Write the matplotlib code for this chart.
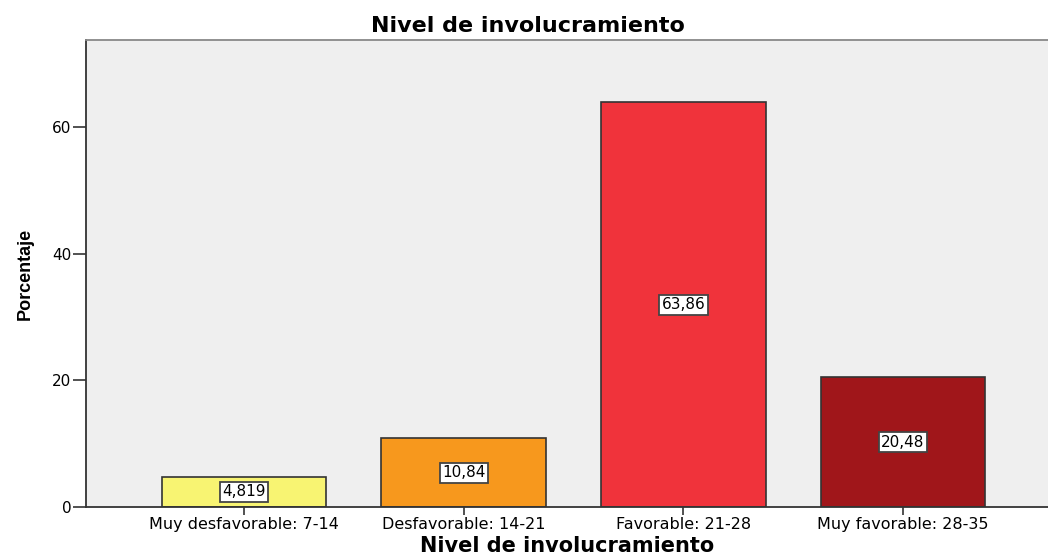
import matplotlib
matplotlib.use("Agg")
import matplotlib.pyplot as plt

categories = ["Muy desfavorable: 7-14", "Desfavorable: 14-21", "Favorable: 21-28", "Muy favorable: 28-35"]
values = [4.819, 10.84, 63.86, 20.48]
value_labels = ["4,819", "10,84", "63,86", "20,48"]
colors = ["#F8F472", "#F7981D", "#F0333B", "#A0161A"]
yticks = [0, 20, 40, 60]

plt.rcParams['font.family'] = ['DejaVu Sans']

fig = plt.figure(figsize=(10.48, 5.56), dpi=100)
ax = fig.add_axes([0.082, 0.088, 0.918, 0.840])
ax.set_facecolor("#EFEFEF")

x = list(range(len(categories)))
bars = ax.bar(x, values, width=0.75, color=colors, edgecolor="#333333", linewidth=1.2)

for xi, v, lab in zip(x, values, value_labels):
    ax.text(xi, v / 2, lab, ha="center", va="center", fontsize=11,
            bbox=dict(boxstyle="square,pad=0.15", facecolor="white", edgecolor="#444444", linewidth=1.3))

ax.set_xlim(-0.72, 3.66)
ax.set_ylim(0, 73.7)
ax.set_xticks(x)
ax.set_xticklabels(categories, fontsize=11.5)
ax.set_yticks(yticks)
ax.set_yticklabels([str(t) for t in yticks], fontsize=11)
ax.tick_params(axis="y", length=9.5, width=1.2, color="#333333", pad=1)
ax.tick_params(axis="x", length=6, width=1.2, color="#333333", pad=1.5)

for s in ["left", "bottom"]:
    ax.spines[s].set_color("#333333")
    ax.spines[s].set_linewidth(1.3)
ax.spines["top"].set_color("#888888")
ax.spines["top"].set_linewidth(1.3)
ax.spines["right"].set_visible(False)

fig.text(528 / 1048, 1 - 25.5 / 556, "Nivel de involucramiento", ha="center", va="center",
         fontsize=16, fontweight="bold")
ax.set_xlabel("Nivel de involucramiento", fontsize=15, fontweight="bold")
ax.xaxis.set_label_coords(0.5, -0.0965)
ax.xaxis.label.set_va("baseline")
ax.set_ylabel("Porcentaje", fontsize=13, fontweight="bold", family=["Liberation Sans", "DejaVu Sans"])
ax.yaxis.set_label_coords(-0.054, 0.5)

fig.savefig("out.png", dpi=100, facecolor="white")
